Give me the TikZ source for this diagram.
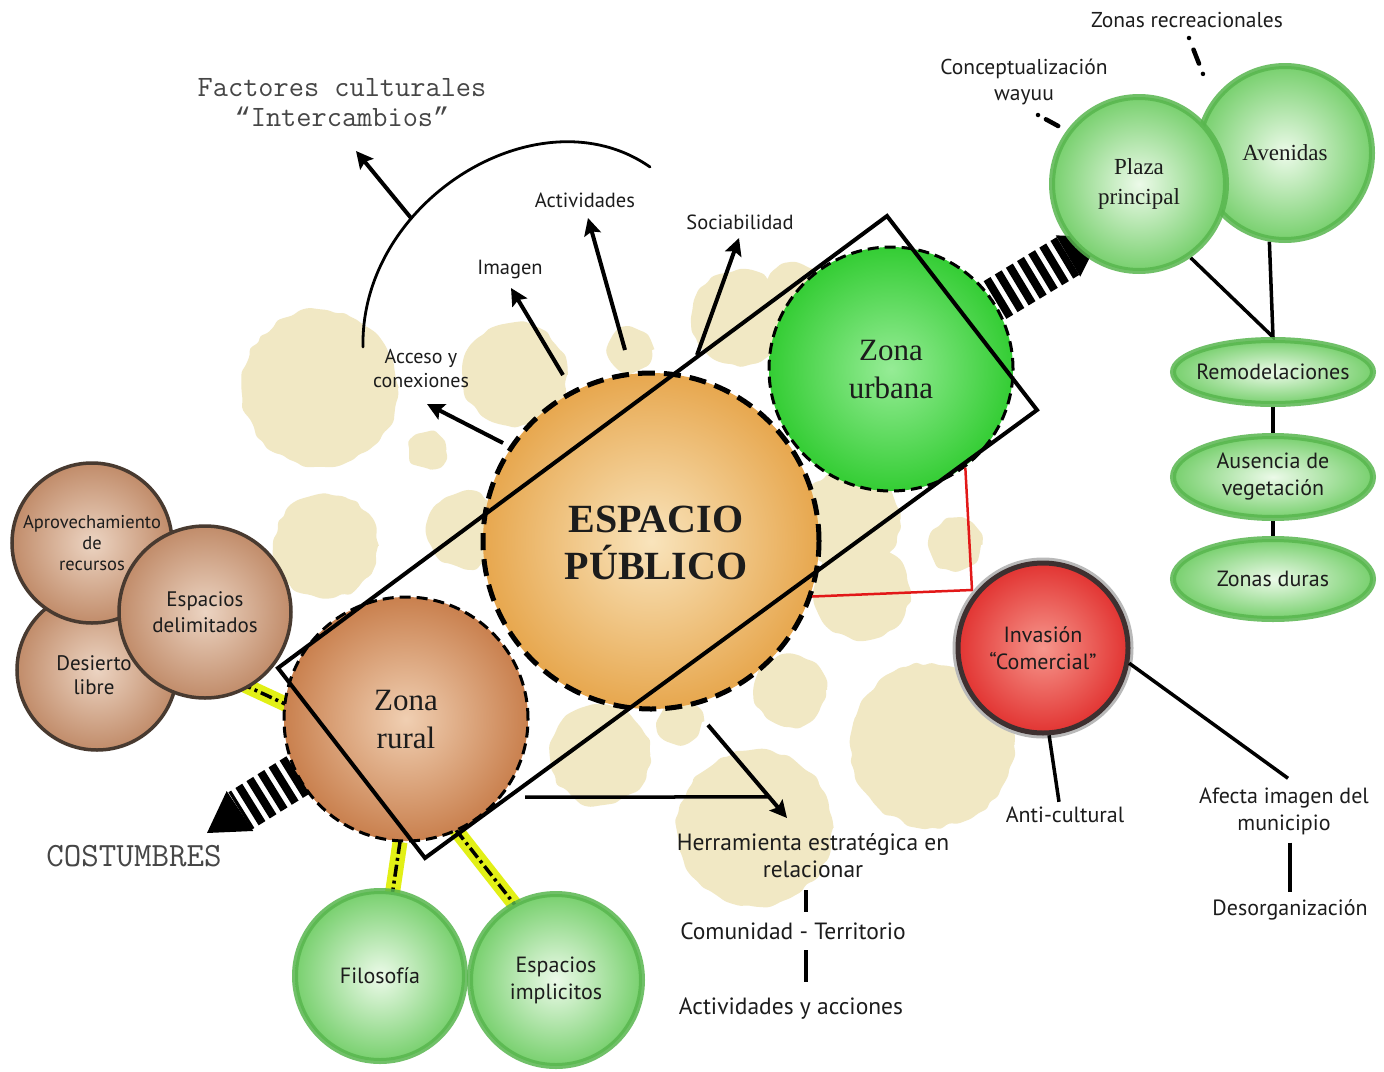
\documentclass[tikz,border=0pt]{standalone}
\usepackage{fontspec}
\setmainfont{Liberation Serif}
\newfontfamily\labf{PT Sans}
\newfontfamily\lmono{Liberation Mono}
\usetikzlibrary{shapes.geometric,arrows.meta,calc,decorations.pathmorphing}
\definecolor{beige}{RGB}{241,232,196}
\definecolor{epin}{RGB}{249,228,188}
\definecolor{epout}{RGB}{231,167,78}
\definecolor{zuin}{RGB}{150,236,150}
\definecolor{zuout}{RGB}{52,205,52}
\definecolor{zrin}{RGB}{240,207,178}
\definecolor{zrout}{RGB}{201,128,78}
\definecolor{bubin}{RGB}{236,250,233}
\definecolor{bubout}{RGB}{120,208,110}
\definecolor{bubring}{RGB}{88,182,78}
\definecolor{brin}{RGB}{236,212,194}
\definecolor{brout}{RGB}{193,140,106}
\definecolor{brring}{RGB}{72,58,48}
\definecolor{redin}{RGB}{246,150,140}
\definecolor{redout}{RGB}{226,52,50}
\definecolor{redring}{RGB}{62,48,48}
\definecolor{yel}{RGB}{226,240,22}
\definecolor{redln}{RGB}{226,24,24}
\definecolor{txt}{RGB}{28,28,28}
\definecolor{monoc}{RGB}{70,70,70}
\pgfdeclarelayer{blobs}
\pgfdeclarelayer{conns}
\pgfsetlayers{blobs,conns,main}
\tikzset{
  lbl/.style={font=\labf\fontsize{22}{27}\selectfont, align=center, inner sep=0pt, text=txt},
  smlbl/.style={lbl, font=\labf\fontsize{20}{24}\selectfont},
  srf/.style={font=\fontsize{31}{38}\selectfont, align=center, inner sep=0pt, text=txt},
  srfs/.style={font=\fontsize{23}{30}\selectfont, align=center, inner sep=0pt, text=txt},
  typew/.style={font=\ttfamily\fontsize{29.5}{30}\selectfont, align=center, inner sep=0pt, text=monoc},
  bub/.style={circle, draw=bubring, draw opacity=0.85, line width=6pt, inner color=bubin, outer color=bubout, minimum size=#1, inner sep=0pt},
  bubell/.style 2 args={ellipse, draw=bubring, draw opacity=0.85, line width=6pt, inner color=bubin, outer color=bubout, minimum width=#1, minimum height=#2, inner sep=0pt},
  brc/.style={circle, draw=brring, line width=3.5pt, inner color=brin, outer color=brout, minimum size=#1, inner sep=0pt},
  zone/.style={circle, line width=3pt, dash pattern=on 11pt off 6pt, draw=black, minimum size=#1, inner sep=0pt},
  arr/.style={line width=4pt, -{Stealth[length=17pt,width=17pt,inset=3pt]}},
  thk/.style={line width=3.5pt},
  blob/.style={fill=beige, decorate, decoration={random steps, segment length=8pt, amplitude=2.5pt}, rounded corners=3pt},
  stripes/.style={line width=44pt, dash pattern=on 8pt off 5pt},
  yband/.style={line width=15pt, draw=yel},
  ddline/.style={line width=3.5pt, dash pattern=on 12pt off 4pt on 3pt off 4pt},
}
\begin{document}
\begin{tikzpicture}[x=1pt,y=-1pt]
\pgfmathsetseed{7}
\useasboundingbox (0,0) rectangle (1384,1071);
\begin{pgfonlayer}{blobs}
\fill[white] (0,0) rectangle (1384,1071);
\foreach \bx/\by/\br in {320/388/78, 515/375/52, 428/450/18, 326/546/52, 465/530/38, 630/350/22,
  740/318/48, 795/295/32, 850/520/50, 862/592/48, 955/545/26, 790/690/36, 680/722/22,
  932/745/82, 755/828/78, 600/755/50}
  \path[blob] (\bx,\by) circle (\br);
\end{pgfonlayer}

% ---------- main zones
\node[circle, minimum size=336, inner sep=0pt, inner color=epin, outer color=epout, draw, line width=5pt,
      dash pattern=on 17pt off 9pt] (ep) at (651,541) {};
\node[font=\fontsize{40}{47}\selectfont\bfseries, align=center, text=txt, inner sep=0pt] (ept) at (656,543) {ESPACIO\\PÚBLICO};
\node[zone=244, inner color=zuin, outer color=zuout, srf] (zu) at (891,369) {Zona\\urbana};
\node[zone=244, inner color=zrin, outer color=zrout, srf] (zr) at (406,719) {Zona\\rural};

% ---------- rotated frame
\coordinate (r1) at (887,216);
\coordinate (r2) at (1037,410);
\coordinate (r3) at (425,858);
\coordinate (r4) at (278,668);
\draw[line width=4pt, line join=miter] (r1) -- (r2) -- (r3) -- (r4) -- cycle;

% ---------- striped arrows
\coordinate (sa0) at (995,300);
\coordinate (sa1) at (1068,256);
\coordinate (sat) at (1100,237);
\draw[stripes] (sa0) -- (sa1);
\fill ($(sa1)!24pt!90:(sat)$) -- (sat) -- ($(sa1)!24pt!-90:(sat)$) -- cycle;
\coordinate (sb0) at (298,775);
\coordinate (sb1) at (240,811);
\coordinate (sbt) at (207,833);
\draw[stripes] (sb0) -- (sb1);
\fill ($(sb1)!24pt!90:(sbt)$) -- (sbt) -- ($(sb1)!24pt!-90:(sbt)$) -- cycle;

% ---------- urban side bubbles
\node[bub=174, srfs] (av) at (1285,153) {Avenidas};
\node[bub=174, srfs] (pp) at (1139,184) {Plaza\\principal};
\node[bubell={200}{64}] (rem) at (1273,372) {};
\node[bubell={200}{82}] (aus) at (1273,477) {};
\node[bubell={200}{80}] (zd) at (1273,579) {};
\node[lbl] (remt) at (rem.center) {Remodelaciones};
\node[lbl] (aust) at (aus.center) {Ausencia de\\vegetación};
\node[lbl] (zdt) at (zd.center) {Zonas duras};
\begin{pgfonlayer}{conns}
\draw[thk] (pp.-55) -- (rem.north) -- (av.-100);
\draw[thk] (rem.south) -- (aus.north);
\draw[thk] (aus.south) -- (zd.north);
\end{pgfonlayer}

\node[lbl, font=\labf\fontsize{21.5}{26}\selectfont] (zrec) at (1187,20) {Zonas recreacionales};
\node[lbl, font=\labf\fontsize{21.5}{26}\selectfont] (cw) at (1024,82) {Conceptualización\\wayuu};
\coordinate (zra) at (1189,38);
\coordinate (zrb) at (1203,74);
\draw[line width=4.5pt, line cap=round, dash pattern=on 0pt off 12.5pt on 15pt off 11pt on 0pt off 50pt] (zra) -- (zrb);
\coordinate (cwa) at (1038,115);
\coordinate (cwb) at (1060,127);
\draw[line width=4.5pt, line cap=round, dash pattern=on 0pt off 9pt on 14pt off 40pt] (cwa) -- (cwb);

% ---------- rural side circles
\node[brc=160] (des) at (97,670) {};
\node[brc=160] (apr) at (92,543) {};
\node[brc=172, lbl, font=\labf\fontsize{21}{26}\selectfont] (edl) at (205,612) {Espacios\\delimitados};
\node[lbl, font=\labf\fontsize{18.5}{21}\selectfont] at (apr.center) (aprt) {Aprovechamiento\\de\\recursos};
\node[lbl, font=\labf\fontsize{21}{24}\selectfont] at (94,675) (dest) {Desierto\\libre};
\node[bub=170, lbl] (fil) at (380,976) {Filosofía};
\node[bub=172, lbl] (eim) at (556,980) {Espacios\\implicitos};

\coordinate (y1a) at (240,683);
\coordinate (y1b) at (296,709);
\coordinate (y2a) at (400,842);
\coordinate (y2b) at (392,896);
\coordinate (y3a) at (456,830);
\coordinate (y3b) at (515,905);
\begin{pgfonlayer}{conns}
\foreach \p/\q in {y1a/y1b, y2a/y2b, y3a/y3b} {
  \draw[yband] (\p) -- (\q);
  \draw[ddline] (\p) -- (\q);
}
\end{pgfonlayer}

% ---------- commercial invasion
\coordinate (rc) at (972,590);
\draw[redln, line width=2.5pt] (zu.-53) -- (rc) -- (ep.-19);
\node[circle, minimum size=170, inner sep=0pt, line width=5pt, draw=redring, inner color=redin, outer color=redout,
      preaction={draw=gray!55, line width=11pt}, lbl] (inv) at (1043,648) {Invasión\\“Comercial”};
\node[lbl] (ac) at (1065,815) {Anti-cultural};
\node[lbl] (afe) at (1284,811) {Afecta imagen del\\municipio};
\node[lbl] (dso) at (1290,910) {Desorganización};
\draw[thk] (inv.-86) -- ($(ac.north)+(-6,-5)$);
\draw[thk] (inv.-10) -- ($(afe.north)+(4,-9)$);
\draw[thk] ($(afe.south)+(6,8)$) -- ($(dso.north)+(0,-8)$);

% ---------- top arrows
\node[smlbl] (acc) at (421,369) {Acceso y\\conexiones};
\node[lbl, font=\labf\fontsize{20.5}{24}\selectfont] (img) at (510,269) {Imagen};
\node[lbl, font=\labf\fontsize{20.5}{24}\selectfont] (act) at (585,200) {Actividades};
\node[lbl, font=\labf\fontsize{20.5}{24}\selectfont] (soc) at (740,222) {Sociabilidad};
\coordinate (a1s) at (503,443); \coordinate (a1t) at (427,404);
\coordinate (a2s) at (563,375); \coordinate (a2t) at (511,288);
\coordinate (a3s) at (625,350); \coordinate (a3t) at (588,218);
\coordinate (a4s) at (697,355); \coordinate (a4t) at (739,238);
\draw[arr] (a1s) -- (a1t);
\draw[arr] (a2s) -- (a2t);
\draw[arr] (a3s) -- (a3t);
\draw[arr] (a4s) -- (a4t);

\node[typew] (fc1) at (342,88) {Factores culturales};
\node[typew] (fc2) at (342,117) {{\lmono\fontsize{27}{30}\selectfont “}Intercambios{\lmono\fontsize{27}{30}\selectfont ”}};
\coordinate (arcs) at (363,347);
\coordinate (arce) at (650,167);
\draw[line width=2.8pt, line cap=round] (arcs) .. controls (360,200) and (540,90) .. (arce);
\coordinate (fa) at (411,218);
\coordinate (fb) at (356,151);
\draw[arr] (fa) -- (fb);

\node[typew, font=\ttfamily\fontsize{34}{36}\selectfont] (cos) at (134,856) {COSTUMBRES};

% ---------- strategic tool
\node[lbl, font=\labf\fontsize{23.5}{27}\selectfont] (her) at (813,856) {Herramienta estratégica en\\relacionar};
\node[lbl, font=\labf\fontsize{23.5}{27}\selectfont] (com) at (793,931) {Comunidad - Territorio};
\node[lbl, font=\labf\fontsize{23.5}{27}\selectfont] (acc2) at (791,1009) {Actividades y acciones};
\coordinate (h1) at (708,725);
\coordinate (h2) at (787,818);
\coordinate (hz) at (525,797);
\coordinate (hj) at ($(h1)!0.774!(h2)$);
\draw[arr] (h1) -- (h2);
\draw[thk] (hz) -- (hj);
\draw[thk] (806,890) -- (806,912);
\draw[thk] (806,950) -- (806,982);
\end{tikzpicture}
\end{document}
